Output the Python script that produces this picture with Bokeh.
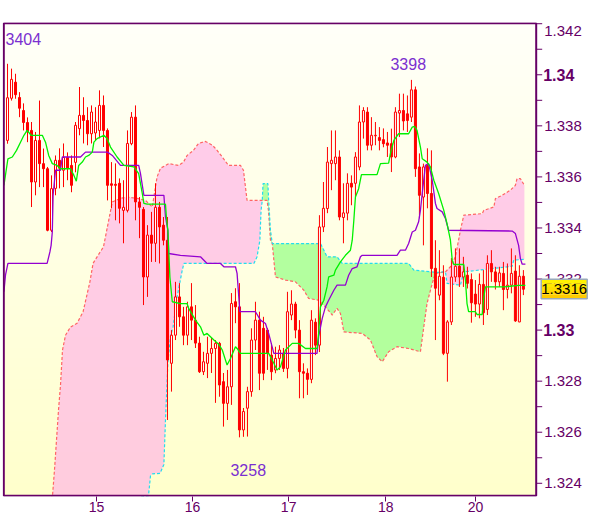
import numpy as np
from bokeh.plotting import figure
from bokeh.models import Range1d, FixedTicker, Label
from bokeh.embed import file_html
from bokeh.resources import INLINE

# ---------------- data (hourly candles, index 0..129) ----------------
opens = [
1.33743, 1.33908, 1.33971, 1.33911, 1.33860, 1.33813, 1.33782, 1.33580, 1.33743, 1.33652,
1.33632, 1.33391, 1.33555, 1.33665, 1.33626, 1.33676, 1.33645, 1.33657, 1.33789, 1.33841,
1.33821, 1.33769, 1.33772, 1.33782, 1.33880, 1.33782, 1.33573, 1.33571, 1.33575, 1.33469,
1.33469, 1.33730, 1.33834, 1.33502, 1.33473, 1.33208, 1.33372, 1.33340, 1.33481, 1.33411,
1.33352, 1.32870, 1.32980, 1.33130, 1.33052, 1.32980, 1.33091, 1.33039, 1.32949, 1.32837,
1.32870, 1.32909, 1.32928, 1.32948, 1.32798, 1.32713, 1.32778, 1.33111, 1.33091, 1.32609,
1.32694, 1.32759, 1.32961, 1.33039, 1.33007, 1.33000, 1.32902, 1.32844, 1.32889, 1.32909,
1.32850, 1.33059, 1.33102, 1.33000, 1.32837, 1.32831, 1.32807, 1.33031, 1.32941, 1.33404,
1.33476, 1.33652, 1.33652, 1.33678, 1.33441, 1.33458, 1.33575, 1.33575, 1.33639, 1.33815,
1.33854, 1.33724, 1.33761, 1.33754, 1.33746, 1.33733, 1.33730, 1.33678, 1.33850, 1.33860,
1.33847, 1.33834, 1.33941, 1.33639, 1.33521, 1.33645, 1.33535, 1.33242, 1.33137, 1.33207,
1.32909, 1.33032, 1.33208, 1.33250, 1.33208, 1.33215, 1.33198, 1.33141, 1.33102, 1.33179,
1.33081, 1.33261, 1.33228, 1.33189, 1.33222, 1.33159, 1.33176, 1.33231, 1.33032, 1.33211,
]
closes = [
1.33910, 1.33982, 1.33922, 1.33869, 1.33813, 1.33776, 1.33580, 1.33743, 1.33652, 1.33632,
1.33391, 1.33554, 1.33665, 1.33634, 1.33676, 1.33634, 1.33567, 1.33802, 1.33841, 1.33821,
1.33769, 1.33854, 1.33815, 1.33880, 1.33782, 1.33567, 1.33567, 1.33567, 1.33477, 1.33481,
1.33731, 1.33834, 1.33502, 1.33481, 1.33208, 1.33372, 1.33340, 1.33481, 1.33404, 1.33352,
1.32883, 1.32980, 1.33130, 1.33052, 1.32980, 1.33091, 1.33039, 1.32949, 1.32837, 1.32876,
1.32909, 1.32928, 1.32948, 1.32785, 1.32713, 1.32778, 1.33104, 1.33091, 1.32609, 1.32681,
1.32759, 1.32961, 1.33039, 1.32831, 1.32831, 1.32909, 1.32837, 1.32889, 1.32922, 1.32850,
1.33072, 1.33102, 1.33000, 1.32837, 1.32831, 1.32807, 1.33039, 1.32941, 1.33404, 1.33477,
1.33658, 1.33665, 1.33678, 1.33443, 1.33459, 1.33575, 1.33560, 1.33678, 1.33815, 1.33860,
1.33724, 1.33763, 1.33763, 1.33743, 1.33730, 1.33724, 1.33678, 1.33854, 1.33860, 1.33819,
1.33821, 1.33941, 1.33632, 1.33528, 1.33639, 1.33535, 1.33241, 1.33164, 1.33211, 1.32909,
1.33032, 1.33208, 1.33250, 1.33208, 1.33228, 1.33183, 1.33107, 1.33102, 1.33179, 1.33068,
1.33261, 1.33228, 1.33189, 1.33224, 1.33159, 1.33176, 1.33222, 1.33036, 1.33211, 1.33160,
]
highs = [
1.34043, 1.34024, 1.34004, 1.33932, 1.33888, 1.33833, 1.33815, 1.33776, 1.33899, 1.33711,
1.33639, 1.33606, 1.33684, 1.33712, 1.33731, 1.33696, 1.33684, 1.33815, 1.33952, 1.33912,
1.33873, 1.33880, 1.33873, 1.33939, 1.33919, 1.33790, 1.33658, 1.33653, 1.33594, 1.33587,
1.33782, 1.33854, 1.33880, 1.33521, 1.33482, 1.33411, 1.33463, 1.33575, 1.33502, 1.33443,
1.33443, 1.33000, 1.33189, 1.33184, 1.33091, 1.33111, 1.33184, 1.33098, 1.32974, 1.32915,
1.32974, 1.32969, 1.32961, 1.32954, 1.32832, 1.32844, 1.33145, 1.33164, 1.33184, 1.32695,
1.32778, 1.33007, 1.33111, 1.33072, 1.33052, 1.33008, 1.32949, 1.32935, 1.32941, 1.32930,
1.33150, 1.33156, 1.33111, 1.33039, 1.32870, 1.32850, 1.33078, 1.33046, 1.33450, 1.33580,
1.33717, 1.33782, 1.33782, 1.33704, 1.33575, 1.33614, 1.33606, 1.33697, 1.33880, 1.33873,
1.33873, 1.33834, 1.33815, 1.33795, 1.33790, 1.33776, 1.33789, 1.33873, 1.33926, 1.33926,
1.33919, 1.33980, 1.33954, 1.33692, 1.33652, 1.33712, 1.33704, 1.33352, 1.33313, 1.33254,
1.33039, 1.33282, 1.33320, 1.33320, 1.33287, 1.33248, 1.33222, 1.33196, 1.33222, 1.33235,
1.33293, 1.33313, 1.33248, 1.33248, 1.33267, 1.33261, 1.33320, 1.33293, 1.33254, 1.33235,
]
lows = [
1.33730, 1.33899, 1.33906, 1.33834, 1.33782, 1.33736, 1.33482, 1.33528, 1.33560, 1.33560,
1.33387, 1.33384, 1.33528, 1.33555, 1.33560, 1.33587, 1.33540, 1.33618, 1.33763, 1.33731,
1.33724, 1.33731, 1.33743, 1.33751, 1.33717, 1.33508, 1.33477, 1.33430, 1.33418, 1.33340,
1.33461, 1.33724, 1.33430, 1.33360, 1.33098, 1.33130, 1.33267, 1.33267, 1.33261, 1.33332,
1.32648, 1.32759, 1.32961, 1.33013, 1.32941, 1.32941, 1.32961, 1.32930, 1.32832, 1.32824,
1.32812, 1.32832, 1.32715, 1.32739, 1.32622, 1.32648, 1.32707, 1.33027, 1.32580, 1.32582,
1.32583, 1.32739, 1.32922, 1.32765, 1.32804, 1.32844, 1.32804, 1.32831, 1.32844, 1.32836,
1.32811, 1.33039, 1.32968, 1.32733, 1.32733, 1.32746, 1.32792, 1.32902, 1.32914, 1.33384,
1.33458, 1.33548, 1.33587, 1.33430, 1.33340, 1.33430, 1.33489, 1.33521, 1.33626, 1.33750,
1.33704, 1.33704, 1.33724, 1.33704, 1.33716, 1.33678, 1.33619, 1.33673, 1.33756, 1.33782,
1.33776, 1.33815, 1.33600, 1.33438, 1.33332, 1.33477, 1.33208, 1.32961, 1.33117, 1.32902,
1.32798, 1.33020, 1.33189, 1.33169, 1.33169, 1.33163, 1.33029, 1.33052, 1.33046, 1.33020,
1.33059, 1.33189, 1.33159, 1.33169, 1.33078, 1.33124, 1.33144, 1.33032, 1.33031, 1.33137,
]

# Ichimoku lines (vertex positions in bar index, price)
tenkan_x = [-0.9, 0.1, 1.2, 2.25, 3.25, 4.1, 4.9, 5.9, 8.7, 9.5,
            10.3, 11.2, 12.4, 13.25, 15.75, 16.6, 17.2, 17.8, 18.7, 19.5,
            20.3, 21.2, 21.6, 22.4, 24.1, 24.9, 25.75, 27.4, 29.1, 31.6,
            32.8, 33.25, 33.7, 34.1, 34.9, 39.5, 39.75, 40.1, 40.6, 41.2,
            43.25, 44.9, 45.3, 47, 48.25, 49.1, 49.9, 50.75, 51.6, 52.8,
            53.7, 54.9, 55.75, 57, 57.4, 58.25, 65.3, 66.6, 67.4, 68.25,
            69.5, 71.2, 72.8, 74.5, 77.4, 77.8, 78.25, 79.1, 79.9, 80.3,
            81.6, 82, 83.25, 84.5, 85.75, 86.2, 86.6, 87, 87.8, 88.5,
            92.4, 93.25, 95.3, 95.75, 96.6, 97.8, 100.3, 101.2, 101.8, 102.4,
            103.25, 103.7, 104.9, 105.75, 106.6, 107.8, 109.1, 109.9, 110.75, 111.2,
            111.6, 114.1, 114.5, 114.9, 115.3, 117, 117.4, 118.7, 119.1, 119.5,
            124.1, 127.8, 129.5]
tenkan_y = [1.33567, 1.33671, 1.33678, 1.33704, 1.33736, 1.33763, 1.33782, 1.33763, 1.33763, 1.33736,
            1.33684, 1.33652, 1.33645, 1.33632, 1.33632, 1.33606, 1.33583, 1.33645, 1.33658, 1.33678,
            1.33684, 1.33697, 1.33736, 1.33750, 1.33763, 1.33750, 1.33717, 1.33678, 1.33645, 1.33639,
            1.33613, 1.33574, 1.33535, 1.33496, 1.33493, 1.33493, 1.33437, 1.33391, 1.33208, 1.33111,
            1.33104, 1.33104, 1.33085, 1.33039, 1.33013, 1.32980, 1.32987, 1.32974, 1.32961, 1.32945,
            1.32922, 1.32863, 1.32889, 1.32935, 1.32928, 1.32909, 1.32909, 1.32870, 1.32844, 1.32856,
            1.32922, 1.32948, 1.32948, 1.32928, 1.32928, 1.32987, 1.33091, 1.33117, 1.33169, 1.33208,
            1.33215, 1.33235, 1.33267, 1.33293, 1.33313, 1.33352, 1.33430, 1.33521, 1.33554, 1.33609,
            1.33609, 1.33652, 1.33654, 1.33691, 1.33743, 1.33769, 1.33769, 1.33795, 1.33798, 1.33782,
            1.33717, 1.33671, 1.33658, 1.33639, 1.33587, 1.33535, 1.33469, 1.33417, 1.33352, 1.33274,
            1.33257, 1.33257, 1.33196, 1.33104, 1.33072, 1.33072, 1.33061, 1.33061, 1.33130, 1.33169,
            1.33169, 1.33175, 1.33175]

kijun_x = [-0.9, -0.5, 0.1, 9.9, 10.6, 10.9, 11.2, 11.4, 12, 13.25,
           13.7, 18.25, 19.5, 25, 26.2, 28.25, 32.8, 33.25, 34.1, 39.1,
           39.5, 40.1, 40.3, 43.25, 48.25, 49.9, 53.25, 54.1, 57, 57.4,
           58.1, 62, 63.25, 64.5, 65.3, 66.6, 77.4, 77.8, 78.7, 79.5,
           80.3, 81.6, 82.4, 84.5, 85.3, 86.2, 87.4, 88.25, 88.7, 97.4,
           98.25, 99.5, 100.3, 101.2, 102, 102.8, 103.25, 103.7, 104.5, 105.3,
           106.2, 107, 107.4, 108.7, 109.5, 110.3, 126.2, 127, 127.8, 128.25,
           128.7, 129.5]
kijun_y = [1.33150, 1.33216, 1.33261, 1.33261, 1.33306, 1.33332, 1.33384, 1.33528, 1.33626, 1.33626,
           1.33678, 1.33678, 1.33697, 1.33697, 1.33684, 1.33645, 1.33645, 1.33613, 1.33528, 1.33528,
           1.33443, 1.33391, 1.33300, 1.33293, 1.33287, 1.33261, 1.33261, 1.33248, 1.33248, 1.33222,
           1.33072, 1.33072, 1.33039, 1.33026, 1.32987, 1.32909, 1.32909, 1.32974, 1.33046, 1.33091,
           1.33117, 1.33156, 1.33176, 1.33176, 1.33215, 1.33241, 1.33248, 1.33287, 1.33293, 1.33293,
           1.33313, 1.33313, 1.33339, 1.33384, 1.33391, 1.33424, 1.33469, 1.33535, 1.33645, 1.33652,
           1.33587, 1.33496, 1.33476, 1.33463, 1.33437, 1.33391, 1.33388, 1.33378, 1.33332, 1.33280,
           1.33258, 1.33258]

spanA_x = [10, 35.25, 35.75, 36.25, 38.15, 39.1, 39.5, 40.1, 40.75, 41.4,
           42.4, 43.7, 44.1, 61.6, 62.4, 63.1, 63.4, 63.7, 63.9, 65.1,
           65.3, 65.75, 66.2, 78.25, 79.1, 79.9, 82.4, 83.7, 100.3, 101.6,
           107.4, 109.5, 109.9, 113.25, 114.1, 126.2, 126.6, 129.1, 129.5]
spanA_y = [1.32280, 1.32351, 1.32429, 1.32437, 1.32439, 1.32474, 1.32648, 1.32871, 1.32974, 1.33013,
           1.33130, 1.33235, 1.33261, 1.33261, 1.33287, 1.33352, 1.33469, 1.33508, 1.33574, 1.33574,
           1.33508, 1.33391, 1.33339, 1.33339, 1.33313, 1.33287, 1.33287, 1.33261, 1.33261, 1.33235,
           1.33226, 1.33228, 1.33183, 1.33176, 1.33228, 1.33250, 1.33274, 1.33277, 1.33277]

spanB_x = [10, 11.25, 11.75, 12.25, 12.75, 13.25, 13.75, 14.5, 15.75, 17.4,
           18.9, 20.6, 21.4, 22.4, 24, 25.3, 26.2, 28.25, 29.9, 32.4,
           34.5, 36.2, 37.4, 38.25, 40.3, 42.75, 44, 44.9, 46.5, 47.75,
           49.5, 51.25, 52.4, 53.7, 55.25, 58.25, 59, 59.9, 64.9, 65.25,
           65.75, 66.2, 67, 69.5, 72, 74.1, 75.3, 77.8, 79.5, 81.2,
           82.4, 83.25, 84.1, 88.7, 90.75, 92.4, 93.7, 95.3, 97.4, 100.3,
           103.25, 104.1, 104.9, 106.2, 107, 109.5, 110.75, 112, 113.25, 114.1,
           118.7, 119.1, 121.6, 122, 123.7, 125.75, 127, 127.4, 128.25, 129.25]
spanB_y = [1.32300, 1.32351, 1.32453, 1.32570, 1.32687, 1.32785, 1.32922, 1.32980, 1.33012, 1.33027,
           1.33072, 1.33189, 1.33262, 1.33287, 1.33326, 1.33430, 1.33502, 1.33516, 1.33521, 1.33516,
           1.33508, 1.33482, 1.33600, 1.33634, 1.33652, 1.33645, 1.33658, 1.33684, 1.33704, 1.33731,
           1.33739, 1.33724, 1.33704, 1.33678, 1.33645, 1.33645, 1.33626, 1.33508, 1.33508, 1.33469,
           1.33352, 1.33339, 1.33208, 1.33196, 1.33189, 1.33156, 1.33124, 1.33117, 1.33091, 1.33059,
           1.33085, 1.33065, 1.32993, 1.32987, 1.32961, 1.32896, 1.32876, 1.32915, 1.32935, 1.32928,
           1.32915, 1.33013, 1.33104, 1.33183, 1.33222, 1.33228, 1.33248, 1.33287, 1.33391, 1.33450,
           1.33456, 1.33469, 1.33482, 1.33515, 1.33528, 1.33548, 1.33567, 1.33593, 1.33593, 1.33567]

day_ticks = [22.25, 46.25, 70.3, 94.6, 117.0]
day_labels = ["15", "16", "17", "18", "20"]
price_ticks = [1.324, 1.326, 1.328, 1.332, 1.334, 1.336, 1.338]
price_labels = ["1.324", "1.326", "1.328", "1.332", "1.334", "1.336", "1.338"]
top_tick = 1.342
top_label = "1.342"
bold_ticks = [1.33, 1.34]
bold_labels = ["1.33", "1.34"]
minor_price_ticks = [1.323, 1.325, 1.327, 1.329, 1.331, 1.333, 1.335, 1.337, 1.339, 1.341]
extreme_labels = ["3404", "3398", "3258"]
extreme_x = [-0.5, 95.75, 55.75]
extreme_y = [1.34142, 1.34044, 1.32452]
last_price = 1.3316
last_label = "1.3316"

# ---------------- geometry ----------------
X0, X1 = -0.93, 132.2          # chart (candle) area in bar index
Y0, Y1 = 1.32351, 1.34202      # chart area in price
FL, FT, FW, FH = 2, 22, 598, 474          # frame in page pixels
CL, CR, CT, CB = 3.3, 535.7, 22.7, 495.3  # chart area in page pixels
PX = (X1 - X0) / (CR - CL)
PY = (Y1 - Y0) / (CB - CT)
xs = X0 - (CL - FL) * PX
xe = X1 + (FL + FW - CR) * PX
ye = Y1 + (CT - FT) * PY
ys = Y0 - (FT + FH - CB) * PY

PURPLE = "#660066"
FONT = "Liberation Sans"

p = figure(frame_width=FW, frame_height=FH,
           x_range=Range1d(xs, xe), y_range=Range1d(ys, ye),
           output_backend="svg", toolbar_location=None,
           y_axis_location=None,
           min_border_left=FL, min_border_top=FT, min_border_right=0, min_border_bottom=0,
           background_fill_color="white", border_fill_color="white",
           outline_line_color=None)
p.xgrid.visible = False
p.ygrid.visible = False

# background vertical gradient of the chart area
n = 200
t = np.linspace(0.0, 1.0, n)
bot = np.array([255, 255, 204], dtype=float)
top = np.array([255, 255, 249], dtype=float)
cols = bot + (top - bot) * t[:, None]
img = np.empty((n, 1), dtype=np.uint32)
view = img.view(dtype=np.uint8).reshape((n, 1, 4))
view[:, 0, 0] = cols[:, 0]
view[:, 0, 1] = cols[:, 1]
view[:, 0, 2] = cols[:, 2]
view[:, 0, 3] = 255
p.image_rgba(image=[img], x=X0, y=Y0, dw=X1 - X0, dh=Y1 - Y0)

# cloud
gx = np.arange(10.0, 129.25 + 1e-9, 0.05)
ga = np.interp(gx, spanA_x, spanA_y)
gb = np.interp(gx, spanB_x, spanB_y)
gt = np.maximum(ga, gb)
p.varea(x=gx, y1=np.maximum(ga, Y0), y2=np.maximum(gt, Y0), fill_color="#FFAEE7", fill_alpha=0.63)
p.varea(x=gx, y1=np.maximum(gb, Y0), y2=np.maximum(gt, Y0), fill_color="#99FF88", fill_alpha=0.75)
p.line(spanB_x, spanB_y, line_color="#FF6464", line_width=1.2, line_dash="3 2")
p.line(spanA_x, spanA_y, line_color="#22DDEE", line_width=1.2, line_dash="3 2")

# candles
idx = np.arange(len(opens), dtype=float)
o = np.array(opens); c = np.array(closes); h = np.array(highs); l = np.array(lows)
up = c >= o
p.segment(x0=idx, y0=l, x1=idx, y1=h, line_color="#FF0000", line_width=1)
p.vbar(x=idx[up], width=0.5, top=c[up], bottom=o[up],
       fill_color="white", line_color="#FF0000", line_width=1)
p.vbar(x=idx[~up], width=0.5, top=o[~up], bottom=c[~up],
       fill_color="#FF0000", line_color="#FF0000", line_width=1)

# tenkan / kijun
p.line(kijun_x, kijun_y, line_color="#9400D0", line_width=1.3)
p.line(tenkan_x, tenkan_y, line_color="#00F000", line_width=1.3)

# white strip below the chart area (frame bottom margin)
p.quad(left=[xs], right=[xe], bottom=[ys], top=[Y0], fill_color="white", line_color=None)

# chart border (right side acts as price axis line)
p.quad(left=[X0], right=[X1], bottom=[Y0], top=[Y1], fill_color=None,
       line_color=PURPLE, line_width=2)

# price axis ticks and labels
all_ticks = price_ticks + bold_ticks + [top_tick] + minor_price_ticks
p.segment(x0=[X1] * len(all_ticks), x1=[X1 + 6 * PX] * len(all_ticks),
          y0=all_ticks, y1=all_ticks, line_color=PURPLE, line_width=1)
p.text(x=[X1 + 8 * PX] * len(price_ticks), y=price_ticks, text=price_labels,
       text_font_size="15px", text_color=PURPLE, text_align="left",
       text_baseline="middle", text_font={"value": FONT})
p.text(x=[X1 + 8 * PX], y=[top_tick - 7 * PY], text=[top_label],
       text_font_size="15px", text_color=PURPLE, text_align="left",
       text_baseline="middle", text_font={"value": FONT})
p.text(x=[X1 + 7 * PX] * len(bold_ticks), y=bold_ticks, text=bold_labels,
       text_font_size="16px", text_font_style="bold", text_color=PURPLE,
       text_align="left", text_baseline="middle", text_font={"value": FONT})

# last price box
bands = ["#FFF200", "#FFEA00", "#FFE000", "#FFD500", "#FFCB00"]
nb = len(bands)
b_top = last_price + 10 * PY
b_bot = last_price - 9.5 * PY
edges = np.linspace(b_top, b_bot, nb + 1)
p.quad(left=[X1 + 5 * PX] * nb, right=[X1 + 51 * PX] * nb,
       top=edges[:-1], bottom=edges[1:], fill_color=bands, line_color=None)
p.quad(left=[X1 + 5 * PX], right=[X1 + 51 * PX], top=[b_top], bottom=[b_bot],
       fill_color=None, line_color="#9AAABB", line_width=1.5)
p.text(x=[X1 + 28 * PX], y=[last_price], text=[last_label], text_font_size="15px",
       text_color="black", text_align="center", text_baseline="middle",
       text_font={"value": FONT})

# x axis (days)
xa = p.xaxis[0]
xa.ticker = FixedTicker(ticks=day_ticks, minor_ticks=[])
xa.major_label_overrides = {k: v for k, v in zip(day_ticks, day_labels)}
xa.axis_line_color = None
xa.major_tick_line_color = PURPLE
xa.major_tick_out = 5
xa.major_tick_in = 0
xa.minor_tick_line_color = None
xa.major_label_standoff = 0
xa.major_label_text_font = FONT
xa.major_label_text_font_size = "14px"
xa.major_label_text_color = PURPLE

for tl, tx, ty in zip(extreme_labels, extreme_x, extreme_y):
    p.add_layout(Label(x=tx, y=ty, text=tl, text_font=FONT,
                       text_font_size="16px", text_color="#7B2FD0",
                       text_align="left", text_baseline="middle"))

open("out.html", "w").write(file_html(p, INLINE))
